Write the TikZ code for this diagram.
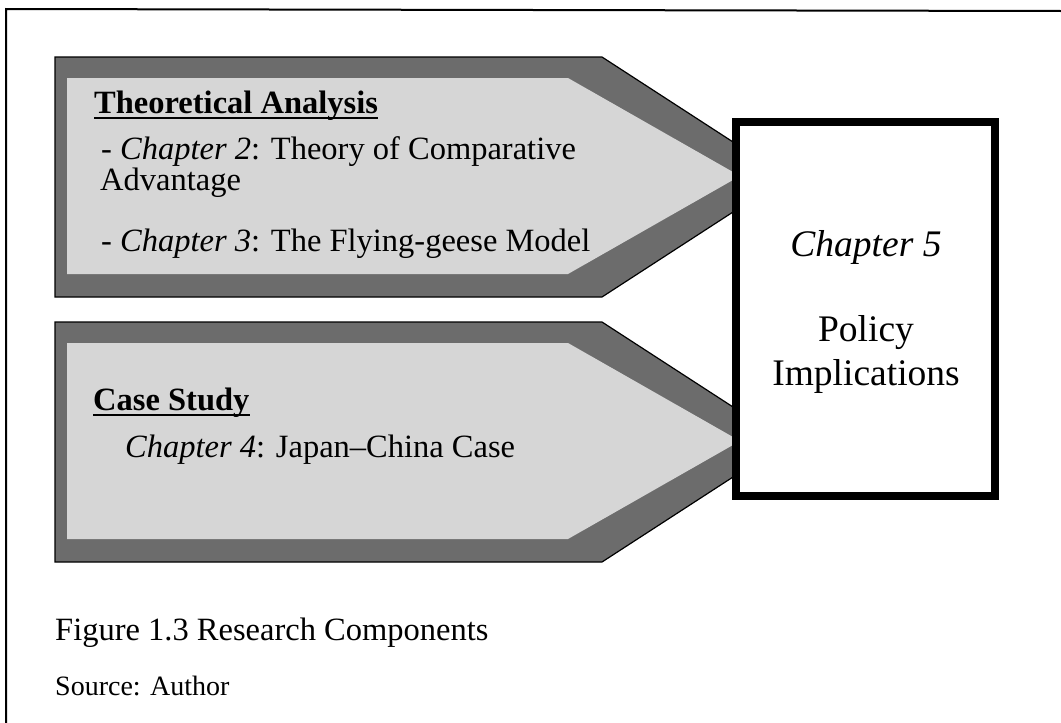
\documentclass[tikz,border=0pt]{standalone}
\usepackage{fontspec}
\setmainfont{Liberation Serif}
\usepackage{tikz}
\usetikzlibrary{calc}
\usetikzlibrary{positioning}
\definecolor{banddark}{HTML}{6C6C6C}
\definecolor{bandlight}{HTML}{D6D6D6}
\newcommand{\chapref}[1]{\textit{Chapter #1}}
\begin{document}
\begin{tikzpicture}[x=1pt,y=-1pt,
  band/.style={
    draw=black,line width=1.2pt,
    fill=banddark},
  face/.style={
    fill=bandlight},
  lbl/.style={
    anchor=base west,inner sep=0pt,
    font=\fontsize{32.5}{38}\selectfont},
  boxlbl/.style={
    anchor=base,inner sep=0pt,
    font=\fontsize{37.5}{44}\selectfont},
  result/.style={
    draw=black,line width=8pt,fill=white},
]

  \def\arrowlen{602}%
  \def\tiplen{787}%
  \def\arrowh{240}%
  \useasboundingbox (0,0) rectangle (1061,723);

  % outer frame
  \draw[line width=2pt] (6,723) -- (6,9) -- (1061,11);

  % the two arrows
  \foreach \top/\name in {57/theo,322/case} {
    \coordinate (\name_nw) at (55,\top);
    \draw[band] (\name_nw) -- (\arrowlen,\top)
        -- (\tiplen,\top+0.5*\arrowh)
        -- (\arrowlen,\top+\arrowh) -- (55,\top+\arrowh) -- cycle;
    \fill[face] (67,\top+21) -- (568,\top+21)
        -- (740,\top+119)
        -- (568,\top+217) -- (67,\top+217) -- cycle;
  }

  % result box
  \draw[result] (736,122) rectangle (995,496);
  \coordinate (res) at (866,122);

  % texts in the upper arrow
  \node[lbl] (thA) at (94,113) {\textbf{Theoretical Analysis}};
  \draw[line width=2.4pt] ($(thA.base west)+(0,5)$) -- ($(thA.base east)+(0,5)$);
  \node[lbl] (ch2) at (101,159) {- \chapref{2}: Theory of Comparative};
  \node[lbl] (adv) at (100,190) {Advantage};
  \node[lbl] (ch3) at (101,251) {- \chapref{3}: The Flying-geese Model};

  % texts in the lower arrow
  \node[lbl] (caseA) at (93,410) {\textbf{Case Study}};
  \draw[line width=2.4pt] ($(caseA.base west)+(0,5)$) -- ($(caseA.base east)+(0,5)$);
  \node[lbl] (ch4) at (125,457) {\chapref{4}: Japan--China Case};

  % texts in the box
  \node[boxlbl] (ch5) at (866,256) {\chapref{5}};
  \node[boxlbl] (pol) at (866,341) {Policy};
  \node[boxlbl] (imp) at (866,385) {Implications};

  % caption
  \node[lbl] (cap) at (55,640) {Figure 1.3 Research Components};
  \node[lbl,font=\fontsize{28}{32}\selectfont] (src) at (55,695) {Source: Author};

\end{tikzpicture}
\end{document}
